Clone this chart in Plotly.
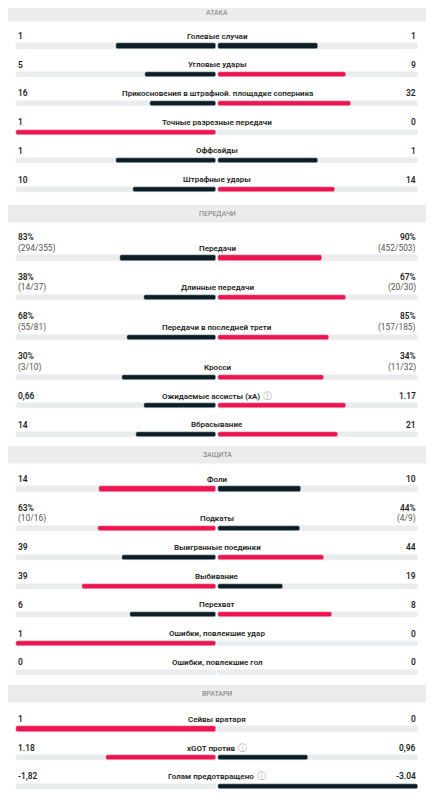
import plotly.graph_objects as go

# ---------------- data ----------------
section_titles = ["АТАКА", "ПЕРЕДАЧИ", "ЗАЩИТА", "ВРАТАРИ"]
section_sizes = [6, 6, 7, 3]

labels = [
    "Голевые случаи", "Угловые удары", "Прикосновения в штрафной. площадке соперника",
    "Точные разрезные передачи", "Оффсайды", "Штрафные удары",
    "Передачи", "Длинные передачи", "Передачи в последней трети", "Кросси",
    "Ожидаемые ассисты (xA)", "Вбрасывание",
    "Фоли", "Подкаты", "Выигранные поединки", "Выбивание", "Перехват",
    "Ошибки, повлекшие удар", "Ошибки, повлекшие гол",
    "Сейвы вратаря", "xGOT против", "Голам предотвращено",
]
# rows whose label carries an info icon
info_rows = [10, 20, 21]

left_text = ["1", "5", "16", "1", "1", "10",
             "83%", "38%", "68%", "30%", "0,66", "14",
             "14", "63%", "39", "39", "6", "1", "0",
             "1", "1.18", "-1,82"]
left_sub = ["", "", "", "", "", "",
            "(294/355)", "(14/37)", "(55/81)", "(3/10)", "", "",
            "", "(10/16)", "", "", "", "", "",
            "", "", ""]
right_text = ["1", "9", "32", "0", "1", "14",
              "90%", "67%", "85%", "34%", "1.17", "21",
              "10", "44%", "44", "19", "8", "0", "0",
              "0", "0,96", "-3.04"]
right_sub = ["", "", "", "", "", "",
             "(452/503)", "(20/30)", "(157/185)", "(11/32)", "", "",
             "", "(4/9)", "", "", "", "", "",
             "", "", ""]

# numeric values used for bar lengths (last row drawn as shown: right bar full)
left_num = [1, 5, 16, 1, 1, 10,
            83, 38, 68, 30, 0.66, 14,
            14, 63, 39, 39, 6, 1, 0,
            1, 1.18, 0]
right_num = [1, 9, 32, 0, 1, 14,
             90, 67, 85, 34, 1.17, 21,
             10, 44, 44, 19, 8, 0, 0,
             0, 0.96, 3.04]
# which side is highlighted in red: L, R or N (none)
highlight = ["N", "R", "R", "L", "N", "R",
             "R", "R", "R", "R", "R", "R",
             "L", "L", "R", "L", "R", "L", "N",
             "L", "L", "N"]

# ---------------- style / layout ----------------
PAGE_MARGIN = 8  # default body margin of the html page
W, H = 434, 800
LEFT, CENTER, RIGHT = 16, 217, 418
GAP = 0.7
HALF = CENTER - GAP - LEFT
DARK = "#0d1e25"
RED = "#f0134d"
TRACK = "#ececec"
HEADER_BG = "#ececec"
FONT = "Roboto"

header_tops = [4, 205, 446, 685]
header_h = 17.5
first_row_offset = [32, 32, 33, 34]
row_step = 28.7
sub_extra = 11

label_y, bar_y, top_y = [], [], []
idx = 0
for s, n in enumerate(section_sizes):
    y = header_tops[s] + first_row_offset[s]
    for k in range(n):
        if left_sub[idx]:
            top_y.append(y)
            label_y.append(y + sub_extra)
            bar_y.append(y + sub_extra + 10)
            y += row_step + sub_extra
        else:
            top_y.append(None)
            label_y.append(y)
            bar_y.append(y + 10)
            y += row_step
        idx += 1

fig = go.Figure()

BAR_W = 5.2
nrows = len(labels)
fig.add_trace(go.Bar(orientation="h", y=bar_y, x=[HALF] * nrows, base=[LEFT] * nrows,
                     width=BAR_W, marker_color=TRACK, hoverinfo="skip", showlegend=False))
fig.add_trace(go.Bar(orientation="h", y=bar_y, x=[HALF] * nrows, base=[CENTER + GAP] * nrows,
                     width=BAR_W, marker_color=TRACK, hoverinfo="skip", showlegend=False))

lw, lb, lc, rw, rc = [], [], [], [], []
for i in range(nrows):
    tot = left_num[i] + right_num[i]
    a = HALF * left_num[i] / tot if tot else 0
    b = HALF * right_num[i] / tot if tot else 0
    lw.append(a)
    lb.append(CENTER - GAP - a)
    rw.append(b)
    lc.append(RED if highlight[i] == "L" else DARK)
    rc.append(RED if highlight[i] == "R" else DARK)

fig.add_trace(go.Bar(orientation="h", y=bar_y, x=lw, base=lb, width=BAR_W,
                     marker=dict(color=lc), hoverinfo="skip", showlegend=False))
fig.add_trace(go.Bar(orientation="h", y=bar_y, x=rw, base=[CENTER + GAP] * nrows, width=BAR_W,
                     marker=dict(color=rc), hoverinfo="skip", showlegend=False))

shapes = []
ann = []
for s, t in enumerate(section_titles):
    shapes.append(dict(type="rect", xref="x", yref="y", x0=8, x1=426,
                       y0=header_tops[s], y1=header_tops[s] + header_h,
                       fillcolor=HEADER_BG, line=dict(width=0), layer="below"))
    ann.append(dict(x=CENTER, y=header_tops[s] + header_h / 2, text=" ".join(t).replace("   ", "  ") if False else t,
                    showarrow=False, xanchor="center", yanchor="middle",
                    font=dict(family=FONT, size=7, color="#7a7a7a")))

LBL_FONT = dict(family=FONT, size=8, color="#1e1e1e", weight=600)
VAL_FONT = dict(family=FONT, size=8.4, color="#1e1e1e", weight=600)
SUB_FONT = dict(family=FONT, size=8.4, color="#555555", weight=400)

ICON = "<span style='color:#a8a8a8;font-size:9px;font-family:DejaVu Sans;font-weight:normal'> ⓘ</span>"

for i in range(nrows):
    txt = labels[i] + (ICON if i in info_rows else "")
    ann.append(dict(x=CENTER, y=label_y[i], text=txt, showarrow=False,
                    xanchor="center", yanchor="middle", font=LBL_FONT))
    vy = top_y[i] if top_y[i] is not None else label_y[i]
    ann.append(dict(x=LEFT, y=vy, text=left_text[i], showarrow=False,
                    xanchor="left", yanchor="middle", font=VAL_FONT))
    ann.append(dict(x=RIGHT, y=vy, text=right_text[i], showarrow=False,
                    xanchor="right", yanchor="middle", font=VAL_FONT))
    if top_y[i] is not None:
        ann.append(dict(x=LEFT, y=label_y[i], text=left_sub[i], showarrow=False,
                        xanchor="left", yanchor="middle", font=SUB_FONT))
        ann.append(dict(x=RIGHT, y=label_y[i], text=right_sub[i], showarrow=False,
                        xanchor="right", yanchor="middle", font=SUB_FONT))

fig.update_layout(
    width=W - 2 * PAGE_MARGIN, height=H - 2 * PAGE_MARGIN,
    margin=dict(l=0, r=0, t=0, b=0),
    paper_bgcolor="white", plot_bgcolor="white",
    barmode="overlay", barcornerradius=2, bargap=0,
    xaxis=dict(range=[PAGE_MARGIN, W - PAGE_MARGIN], visible=False, fixedrange=True),
    yaxis=dict(range=[H - PAGE_MARGIN, PAGE_MARGIN], visible=False, fixedrange=True),
    shapes=shapes, annotations=ann, showlegend=False,
)

fig.write_html("out.html")
